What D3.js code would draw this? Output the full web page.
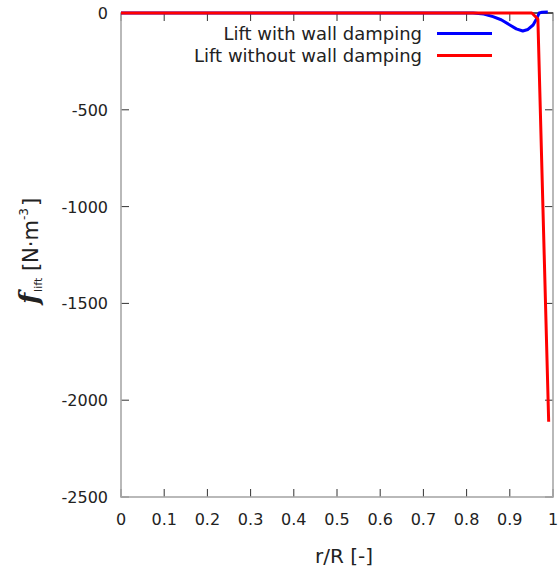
<!DOCTYPE html>
<html><head><meta charset="utf-8">
<script src="https://cdn.jsdelivr.net/npm/d3@7"></script>
<style>body{margin:0;background:#fff}svg{display:block}text{font-family:"DejaVu Sans",sans-serif;fill:#222}</style>
</head><body><svg id="c" width="559" height="569"></svg>
<script>
const xTicks=[0,0.1,0.2,0.3,0.4,0.5,0.6,0.7,0.8,0.9,1];
const yTicks=[0,-500,-1000,-1500,-2000,-2500];
const withR=[0,0.5,0.8,0.815,0.84,0.861,0.88,0.9,0.915,0.93,0.942,0.954,0.962,0.968,0.975,0.988];
const withV=[0,0,0,0,-5,-19,-35,-62,-82,-93,-85,-62,-30,0,4,5];
const withoutR=[0,0.5,0.951,0.965,0.99];
const withoutV=[0,0,0,-31,-2111];
const seriesNames=["Lift with wall damping","Lift without wall damping"];
const colors=["#0000ff","#ff0000"];

const svg=d3.select("#c");
const L=121,R=553,T=13,B=497;
const x=d3.scaleLinear().domain([0,1]).range([L,R]);
const y=d3.scaleLinear().domain([-2500,0]).range([B,T]);

// ticks (mirrored, inward)
const tk=svg.append("g").attr("stroke","#333").attr("stroke-width",1);
xTicks.forEach(t=>{
  tk.append("line").attr("x1",x(t)).attr("x2",x(t)).attr("y1",B).attr("y2",B-8);
  tk.append("line").attr("x1",x(t)).attr("x2",x(t)).attr("y1",T).attr("y2",T+8);
});
yTicks.forEach(t=>{
  tk.append("line").attr("x1",L).attr("x2",L+8).attr("y1",y(t)).attr("y2",y(t));
  tk.append("line").attr("x1",R).attr("x2",R-8).attr("y1",y(t)).attr("y2",y(t));
});
svg.append("rect").attr("x",L).attr("y",T).attr("width",R-L).attr("height",B-T)
  .attr("fill","none").attr("stroke","#a8a8a8").attr("stroke-width",1.6);
svg.append("line").attr("x1",L).attr("x2",R).attr("y1",T).attr("y2",T).attr("stroke","#000").attr("stroke-width",1);

// tick labels
svg.append("g").selectAll("text").data(xTicks).join("text")
  .attr("x",d=>x(d)).attr("y",B+28).attr("text-anchor","middle").attr("font-size",16)
  .text(d=>d3.format("")(d));
svg.append("g").selectAll("text").data(yTicks).join("text")
  .attr("x",L-13).attr("y",d=>y(d)+6).attr("text-anchor","end").attr("font-size",16)
  .text(d=>d);

// lines
const line=d3.line().x(d=>x(d[0])).y(d=>y(d[1]));
const d1=withR.map((r,i)=>[r,withV[i]]);
const d2=withoutR.map((r,i)=>[r,withoutV[i]]);
svg.append("path").datum(d1).attr("d",line).attr("fill","none").attr("stroke",colors[0]).attr("stroke-width",3).attr("stroke-linejoin","round");
svg.append("path").datum(d2).attr("d",line).attr("fill","none").attr("stroke",colors[1]).attr("stroke-width",3).attr("stroke-linejoin","round");

// legend
seriesNames.forEach((n,i)=>{
  const yy=33.5+i*22;
  svg.append("text").attr("x",422).attr("y",yy+6.3).attr("text-anchor","end").attr("font-size",18).text(n);
  svg.append("line").attr("x1",437).attr("x2",492).attr("y1",yy).attr("y2",yy).attr("stroke",colors[i]).attr("stroke-width",3);
});

// axis titles
svg.append("text").attr("x",344).attr("y",563).attr("text-anchor","middle").attr("font-size",20).text("r/R [-]");
const yl=svg.append("text").attr("transform","translate(38,251) rotate(-90)").attr("text-anchor","middle").attr("font-size",21);
yl.append("tspan").attr("font-family","DejaVu Serif").attr("font-weight","bold").attr("font-style","italic").attr("font-size",26).text("f");
yl.append("tspan").attr("font-size",11).attr("dy",4).attr("dx",1).text("lift");
yl.append("tspan").attr("dy",-4).text(" [N·m");
yl.append("tspan").attr("font-size",12).attr("dy",-10).text("-3");
yl.append("tspan").attr("dy",10).attr("dx",2).text("]");
</script></body></html>
